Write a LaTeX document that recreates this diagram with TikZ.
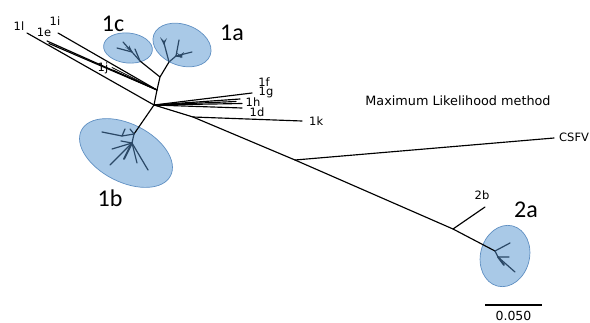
\documentclass[tikz,border=0pt]{standalone}
\usepackage{fontspec}
\setmainfont{DejaVu Sans}
\newfontfamily\cladefont{Carlito}
\begin{document}
\begin{tikzpicture}[x=1pt,y=-1pt,
  branch/.style={draw=black,line width=1.15pt,line cap=round},
  twig/.style={draw=twigblue,line width=1.2pt,line cap=round},
  clade/.style={draw=cladeedge,fill=cladefill,line width=0.7pt},
  tip/.style={font=\fontsize{11.5}{12}\selectfont,inner sep=0pt},
  big/.style={font=\cladefont\fontsize{24}{25}\selectfont,inner sep=0pt},
  note/.style={font=\fontsize{11.5}{12}\selectfont,inner sep=0pt}]
\definecolor{cladefill}{HTML}{A9C9E7}
\definecolor{cladeedge}{HTML}{5F8FC2}
\definecolor{twigblue}{HTML}{2B4866}
\useasboundingbox (0,0) rectangle (590,322);

% shaded clades
\draw[clade,rotate around={-20:(182,45)}] (182,45) ellipse (30 and 20.5);
\draw[clade,rotate around={-6:(128,48)}] (128,48) ellipse (24.5 and 15);
\draw[clade,rotate around={-27:(126,153)}] (126,153) ellipse (50 and 29);
\draw[clade,rotate around={-14:(505,256)}] (505,256) ellipse (24.5 and 31);

% internal nodes
\coordinate (hub) at (154,105);
\coordinate (j1) at (157,90);
\coordinate (j2) at (160,77);
\coordinate (r1a) at (169,62);
\coordinate (r1c) at (140,61);
\coordinate (b0) at (134,134);
\coordinate (nk) at (193,117);
\coordinate (ncs) at (295,160);
\coordinate (n2b) at (453,229);
\coordinate (r2a) at (495,251);

% leaf ends
\coordinate (e1l) at (27,33);
\coordinate (e1i) at (58,33);
\coordinate (e1ea) at (47,41);
\coordinate (e1eb) at (49,43.5);
\coordinate (e1ja) at (112,67.5);
\coordinate (e1jb) at (113,70);
\coordinate (e1f) at (252,93);
\coordinate (e1g) at (240,99);
\coordinate (e1x) at (236,101.5);
\coordinate (e1h) at (242,103.5);
\coordinate (e1d) at (242,108);
\coordinate (e1k) at (302,121);
\coordinate (ecs) at (554,138);
\coordinate (e2b) at (485,207);

% backbone
\draw[branch] (e1l) -- (hub) -- (nk) -- (ncs) -- (n2b) -- (r2a);
\draw[branch] (hub) -- (j1) -- (j2) -- (r1a);
\draw[branch] (j2) -- (r1c);
\draw[branch] (hub) -- (b0);
\draw[branch] (e1i) -- (j1);
\draw[branch] (e1ea) -- (j1);
\draw[branch] (e1eb) -- (j1);
\draw[branch,line width=0.8pt] (e1ja) -- (j1);
\draw[branch,line width=0.8pt] (e1jb) -- (j1);
\draw[branch] (hub) -- (e1f);
\draw[branch] (hub) -- (e1g);
\draw[branch] (hub) -- (e1x);
\draw[branch] (hub) -- (e1h);
\draw[branch] (hub) -- (e1d);
\draw[branch] (nk) -- (e1k);
\draw[branch] (ncs) -- (ecs);
\draw[branch] (n2b) -- (e2b);

% clade 1a
\coordinate (a1) at (176,56);
\coordinate (a2) at (164,43);
\draw[twig] (r1a) -- (a2);
\draw[twig] (r1a) -- (a1) -- (192,52);
\draw[twig] (a1) -- (179,40);
\draw[twig] (a1) -- (182,57);
\fill[twigblue] (160,37) -- (164,45) -- (167,38) -- (164,41) -- cycle;
\fill[twigblue] (176,52) -- (181,58) -- (184,52) -- (180,55) -- cycle;

% clade 1c
\coordinate (c1) at (132,52);
\draw[twig] (r1c) -- (c1) -- (123,42);
\draw[twig] (c1) -- (117,48);
\draw[twig] (r1c) -- (135,49);
\fill[twigblue] (125,47) -- (133,53) -- (129,45) -- (129,49) -- cycle;

% clade 1b
\coordinate (b1) at (132,143);
\coordinate (b2) at (122,136);
\draw[twig] (b0) -- (b1);
\draw[twig] (b0) -- (b2) -- (102,132);
\draw[twig] (b2) -- (125,129);
\draw[twig] (b0) -- (130,129);
\draw[twig] (b1) -- (112,149);
\draw[twig] (b1) -- (110,165);
\draw[twig] (b1) -- (137,163);
\draw[twig] (b1) -- (148,170);
\draw[twig,line width=1.8pt] (b1) -- (124,159);
\draw[twig] (b1) -- (121,141);

% clade 2a
\coordinate (q1) at (498,257);
\draw[twig] (r2a) -- (510,243);
\draw[twig] (r2a) -- (q1) -- (509,257);
\draw[twig] (q1) -- (515,272);
\draw[twig,line width=1.8pt] (q1) -- (504,265);

% leaf labels
\node[tip] (l1l) at (19,26) {1l};
\node[tip] (l1e) at (44,32) {1e};
\node[tip] (l1i) at (55,21) {1i};
\node[tip] (l1j) at (103,68) {1j};
\node[tip] (l1f) at (264,82) {1f};
\node[tip] (l1g) at (266,93) {1g};
\node[tip] (l1h) at (253,102) {1h};
\node[tip] (l1d) at (257,112) {1d};
\node[note,anchor=west] (l1k) at (309,121) {1k};
\node[note,anchor=west] (lcs) at (559,137) {CSFV};
\node[tip] (l2b) at (482,195) {2b};

% clade labels
\node[big] (g1c) at (113,24) {1c};
\node[big] (g1a) at (232,33) {1a};
\node[big] (g1b) at (110,198) {1b};
\node[big] (g2a) at (526,210) {2a};

% title
\node[font=\fontsize{12.8}{14}\selectfont,inner sep=0pt] (title) at (458,101) {Maximum Likelihood method};

% scale bar
\coordinate (s0) at (485,305);
\coordinate (s1) at (542,305);
\draw[branch,line cap=butt] (s0) -- (s1);
\node[font=\fontsize{12.5}{13}\selectfont,inner sep=0pt] (scl) at (513.5,315.5) {0.050};
\end{tikzpicture}
\end{document}
